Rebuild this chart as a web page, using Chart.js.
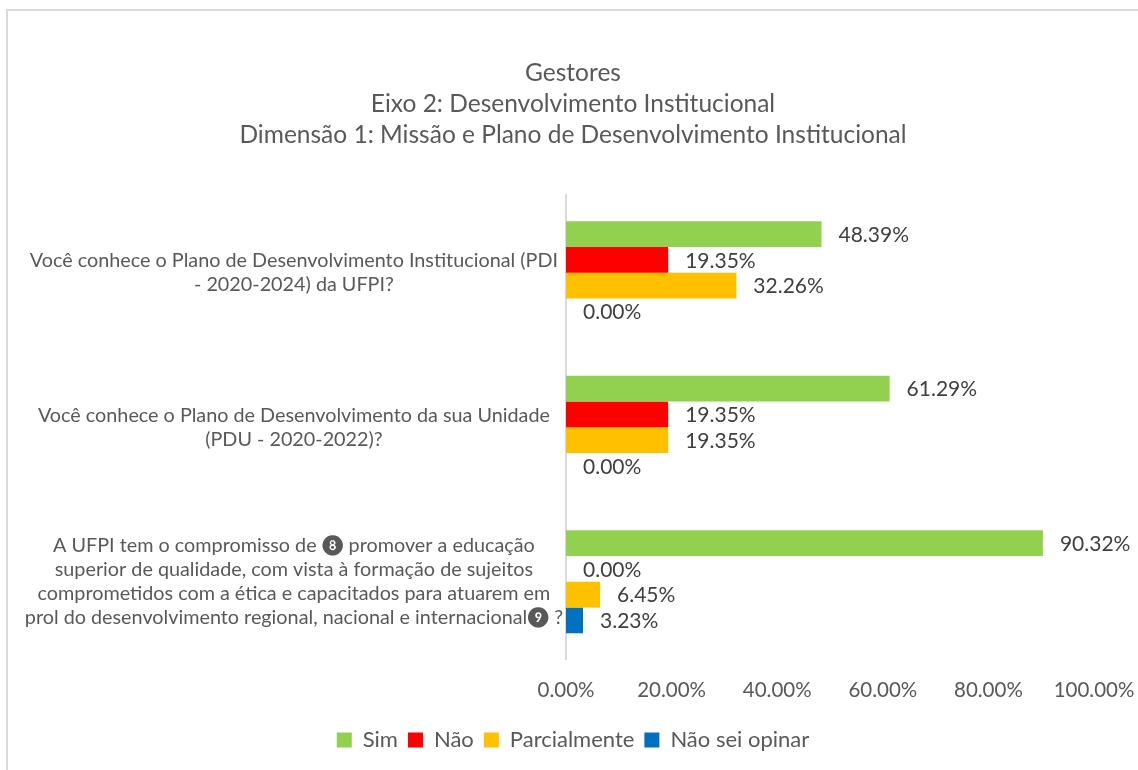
<!DOCTYPE html>
<html>
<head>
<meta charset="utf-8">
<script src="https://cdn.jsdelivr.net/npm/chart.js@4"></script>
<style>
  html, body { margin: 0; padding: 0; background: #ffffff; }
  #frame {
    position: absolute; left: 6px; top: 9px; width: 1200px; height: 800px;
    border-left: 2px solid #d9d9d9; border-top: 2px solid #d9d9d9;
  }
  #wrap { position: absolute; left: 0; top: 0; width: 1138px; height: 770px; }
</style>
</head>
<body>
<div id="frame"></div>
<div id="wrap"><canvas id="chart"></canvas></div>
<script>
// ---- data ----
const categories = [
    ["Você conhece o Plano de Desenvolvimento Institucional (PDI", "- 2020-2024) da UFPI?"],
    ["Você conhece o Plano de Desenvolvimento da sua Unidade", "(PDU - 2020-2022)?"],
    ["A UFPI tem o compromisso de ❽ promover a educação",
     "superior de qualidade, com vista à formação de sujeitos",
     "comprometidos com a ética e capacitados para atuarem em",
     "prol do desenvolvimento regional, nacional e internacional❾ ?"]
];
const seriesNames = ["Sim", "Não", "Parcialmente", "Não sei opinar"];
const simValues = [48.39, 61.29, 90.32];
const naoValues = [19.35, 19.35, 0];
const parcialValues = [32.26, 19.35, 6.45];
const naoSeiValues = [0, 0, 3.23];
const xTickValues = [0, 20, 40, 60, 80, 100];
const titleLines = [
    "Gestores",
    "Eixo 2: Desenvolvimento Institucional",
    "Dimensão 1: Missão e Plano de Desenvolvimento Institucional"
];

const colors = ["#92D050", "#FF0000", "#FFC000", "#0070C0"];
const textColor = "#595959";
const fontFamily = "Lato, 'Open Sans', sans-serif";

// value labels to the right of each bar
const valueLabels = {
    id: "valueLabels",
    afterDatasetsDraw(chart) {
        const ctx = chart.ctx;
        ctx.save();
        ctx.font = "21px " + fontFamily;
        ctx.fillStyle = "#404040";
        ctx.textAlign = "left";
        ctx.textBaseline = "middle";
        chart.data.datasets.forEach((ds, i) => {
            chart.getDatasetMeta(i).data.forEach((bar, j) => {
                ctx.fillText(ds.data[j].toFixed(2) + "%", bar.x + 17, bar.y + 1);
            });
        });
        ctx.restore();
    }
};

const allSeries = [simValues, naoValues, parcialValues, naoSeiValues];

new Chart(document.getElementById("chart"), {
    type: "bar",
    data: {
        labels: categories,
        datasets: allSeries.map((vals, i) => ({
            label: seriesNames[i],
            data: vals,
            backgroundColor: colors[i],
            borderWidth: 0,
            categoryPercentage: 0.667,
            barPercentage: 1
        }))
    },
    options: {
        indexAxis: "y",
        responsive: true,
        maintainAspectRatio: false,
        animation: false,
        layout: { padding: { top: 10, left: 20.5, right: 12.5, bottom: 9 } },
        scales: {
            x: {
                min: 0,
                max: 100,
                afterBuildTicks: scale => { scale.ticks = xTickValues.map(v => ({ value: v })); },
                afterFit: scale => {
                    scale.height = 60;
                    scale.paddingLeft = 0;
                    scale.paddingRight = 44;
                },
                grid: { display: false, drawTicks: false },
                border: { display: false },
                ticks: {
                    padding: 19,
                    color: textColor,
                    font: { size: 20.5, family: fontFamily },
                    callback: v => v.toFixed(2) + "%"
                }
            },
            y: {
                afterFit: scale => { scale.width = 545.5; },
                grid: { display: false, drawTicks: false },
                border: { display: true, color: "#d9d9d9", width: 2 },
                ticks: {
                    autoSkip: false,
                    padding: 3,
                    crossAlign: "center",
                    color: textColor,
                    font: { size: 19.8, family: fontFamily, lineHeight: 1.21 }
                }
            }
        },
        plugins: {
            title: {
                display: true,
                text: titleLines,
                color: textColor,
                font: { size: 24.5, family: fontFamily, weight: "normal", lineHeight: 1.265 },
                padding: { top: 47.5, bottom: 45 }
            },
            legend: {
                position: "bottom",
                labels: {
                    boxWidth: 15,
                    boxHeight: 15,
                    padding: 10,
                    color: textColor,
                    font: { size: 22, family: fontFamily }
                }
            },
            tooltip: { enabled: false }
        }
    },
    plugins: [valueLabels]
});
</script>
</body>
</html>
